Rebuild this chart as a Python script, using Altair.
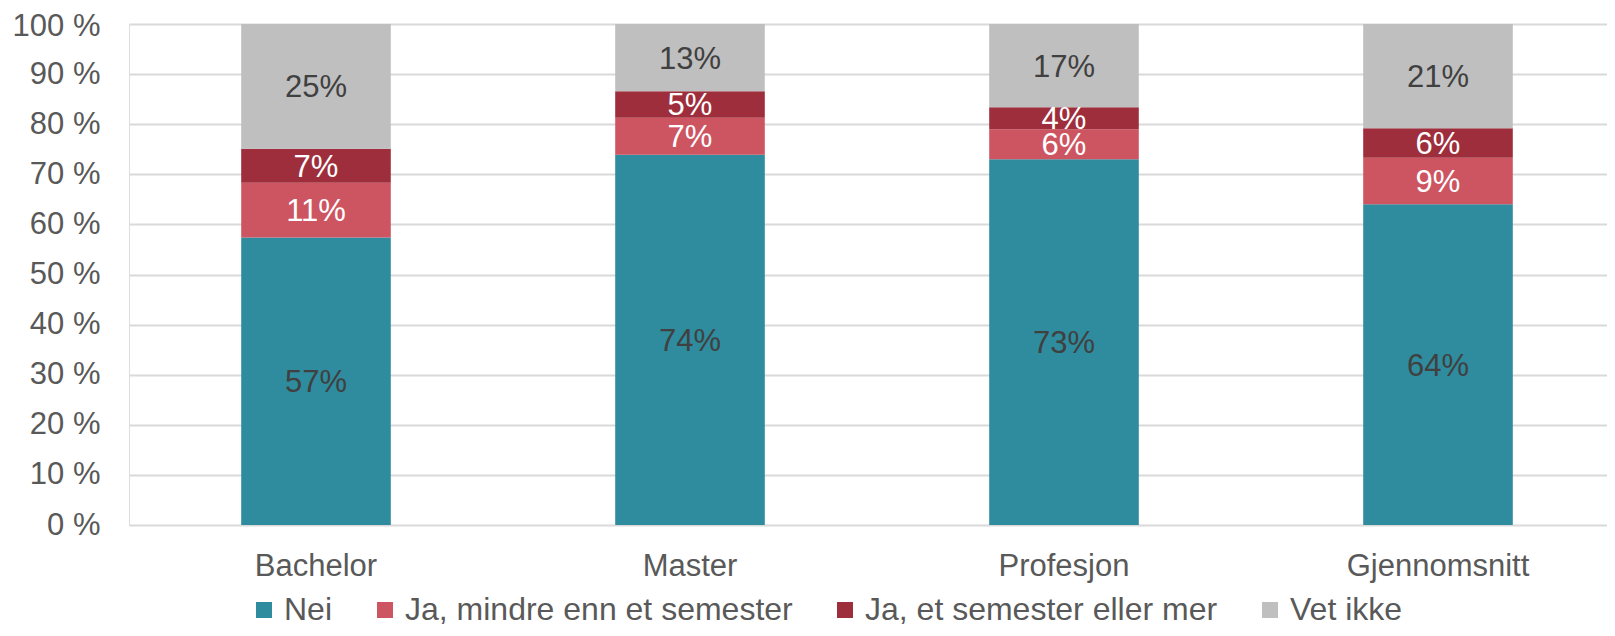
import altair as alt
import pandas as pd

categories = ["Bachelor", "Master", "Profesjon", "Gjennomsnitt"]
series = ["Nei", "Ja, mindre enn et semester", "Ja, et semester eller mer", "Vet ikke"]
nei = [57.4, 73.9, 73.0, 64.0]
ja_mindre = [10.9, 7.4, 6.0, 9.3]
ja_mer = [6.8, 5.3, 4.4, 5.9]
vet_ikke = [24.9, 13.4, 16.6, 20.8]
labels_nei = ["57%", "74%", "73%", "64%"]
labels_ja_mindre = ["11%", "7%", "6%", "9%"]
labels_ja_mer = ["7%", "5%", "4%", "6%"]
labels_vet_ikke = ["25%", "13%", "17%", "21%"]
y_ticks = [0, 10, 20, 30, 40, 50, 60, 70, 80, 90, 100]
colors = ["#2e8c9e", "#cd5562", "#9e2e3c", "#bfbfbf"]
text_colors = ["#404040", "#ffffff", "#ffffff", "#404040"]

rows = []
for si, (vals, labs) in enumerate(zip([nei, ja_mindre, ja_mer, vet_ikke],
                                      [labels_nei, labels_ja_mindre, labels_ja_mer, labels_vet_ikke])):
    for ci, cat in enumerate(categories):
        rows.append({"kategori": cat, "serie": series[si], "verdi": vals[ci],
                     "etikett": labs[ci], "rekke": si, "tekstfarge": text_colors[si]})
df = pd.DataFrame(rows)

FONT = "Liberation Sans"

base = alt.Chart(df).transform_stack(
    stack="verdi", groupby=["kategori"], as_=["y0", "y1"],
    sort=[alt.SortField("rekke", order="ascending")]
).transform_calculate(mid="(datum.y0 + datum.y1) / 2")

x_scale = alt.Scale(paddingInner=0.6, paddingOuter=0.3, range=[0, 1496])

x_enc = alt.X("kategori:N", sort=categories, title=None, scale=x_scale,
              axis=alt.Axis(labelAngle=0, labelFontSize=31, labelColor="#595959",
                            labelFont=FONT, domain=False, ticks=False, labelPadding=26,
                            labelLimit=0, grid=False))

bars = base.mark_bar().encode(
    x=x_enc,
    y=alt.Y("y0:Q", title=None,
            scale=alt.Scale(domain=[0, 100], nice=False),
            axis=alt.Axis(values=y_ticks, labelExpr="datum.value + ' %'",
                          labelFontSize=31, labelColor="#595959", labelFont=FONT,
                          labelOffset={"expr": "datum.value == 100 ? 2 : 0"},
                          domain=False, ticks=False, labelPadding=29,
                          grid=True, gridColor="#d9d9d9", gridWidth=2)),
    y2="y1:Q",
    color=alt.Color("serie:N", scale=alt.Scale(domain=series, range=colors),
                    legend=alt.Legend(title=None, orient="none", direction="horizontal",
                                      legendX=119, legendY=570,
                                      symbolType="square", symbolSize=256,
                                      symbolStrokeWidth=0, labelFontSize=32,
                                      labelFont=FONT, labelColor="#595959",
                                      labelLimit=0, labelOffset=4, columnPadding=36,
                                      padding=0)),
    order=alt.Order("rekke:Q"),
)

texts = base.mark_text(fontSize=31, font=FONT, baseline="middle", align="center", dy=2).encode(
    x=alt.X("kategori:N", sort=categories, scale=x_scale),
    y=alt.Y("mid:Q"),
    text="etikett:N",
    color=alt.Color("tekstfarge:N", scale=None),
)

chart = alt.layer(bars, texts).properties(
    width=1478, height=501,
    autosize=alt.AutoSizeParams(type="none"),
    padding={"left": 121, "top": 16, "right": 0, "bottom": 103},
).configure_view(stroke=None).configure(background="white")

chart.save("out.html", embed_options={"renderer": "svg", "actions": False})
